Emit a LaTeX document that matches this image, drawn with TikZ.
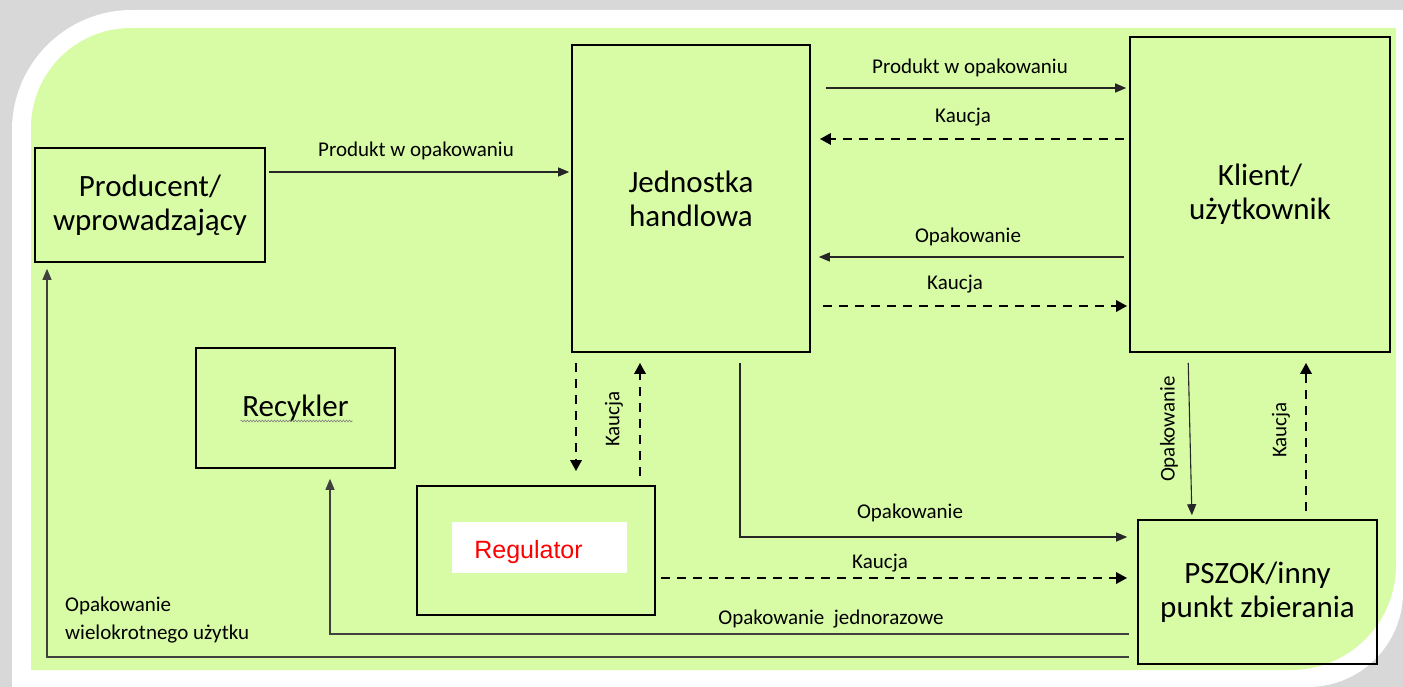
\documentclass[tikz,border=0pt]{standalone}
\usepackage{fontspec}
\setmainfont{Carlito}
\newfontfamily\arialfont{Liberation Sans}
\usetikzlibrary{arrows.meta,decorations.pathmorphing}
\definecolor{panelgreen}{RGB}{216,252,166}
\definecolor{shadowgray}{RGB}{216,216,216}
\begin{document}
\begin{tikzpicture}[x=1pt,y=-1pt,
  box/.style={draw=black,line width=1.6pt,inner sep=0pt,align=center,font=\fontsize{31}{34}\selectfont},
  lbl/.style={font=\fontsize{21}{28}\selectfont,inner sep=0pt,anchor=base},
  rlbl/.style={font=\fontsize{21}{28}\selectfont,inner sep=0pt,rotate=90},
  sarr/.style={draw=black!85,line width=1.1pt,-{Triangle[length=11pt,width=9pt]}},
  darr/.style={draw=black,line width=2.9pt,dash pattern=on 9pt off 7pt,-{Triangle[length=11pt,width=11pt]}}
]
\useasboundingbox (0,0) rectangle (1403,687);
% background panel
\fill[shadowgray] (0,0) rectangle (1403,687);
\fill[white] (12,687) -- (12,130) arc[start angle=180,end angle=270,radius=120] -- (1403,10) -- (1403,592) arc[start angle=0,end angle=90,radius=95] -- cycle;
\fill[panelgreen] (31,670) -- (31,128) arc[start angle=180,end angle=270,radius=100] -- (1396,28) -- (1396,565) arc[start angle=0,end angle=90,radius=105] -- cycle;

% boxes
\node[box,minimum width=230pt,minimum height=114pt] (prod) at (150,205) {Producent/\\wprowadzający};
\node[box,minimum width=238pt,minimum height=307pt] (jh) at (691,198.5) {Jednostka\\handlowa};
\node[box,minimum width=260pt,minimum height=315pt] (kl) at (1260,194.5) {Klient/\\użytkownik};
\node[box,minimum width=199pt,minimum height=120pt] (rec) at (295.5,408) {Recykler};
\node[box,minimum width=238pt,minimum height=129pt] (reg) at (536,550.5) {};
\node[fill=white,inner sep=0pt,minimum width=175pt,minimum height=51pt] (regbg) at (539.5,547.5) {};
\node[anchor=base,inner sep=0pt,text=red,font=\arialfont\fontsize{25}{28}\selectfont] (regtxt) at (528.5,558) {Regulator};
\node[box,minimum width=239pt,minimum height=144pt] (psz) at (1257.5,592) {PSZOK/inny\\punkt zbierania};

% spell-check squiggle under Recykler
\draw[gray,line width=0.6pt,decorate,decoration={snake,amplitude=0.9pt,segment length=3pt}]
  ([xshift=-55pt,yshift=-13pt]rec.center) -- ([xshift=57pt,yshift=-13pt]rec.center);

% connectors
\draw[sarr,shorten <=3pt,shorten >=2pt] (prod.east |- 0,172) -- (jh.west |- 0,172);
\node[lbl] (l1) at (416,157) {Produkt w opakowaniu};

\draw[sarr,shorten <=15pt,shorten >=3pt] (jh.east |- 0,88) -- (kl.west |- 0,88);
\node[lbl] (l2) at (970,74) {Produkt w opakowaniu};

\draw[darr,shorten <=5pt,shorten >=9pt] (kl.west |- 0,139) -- (jh.east |- 0,139);
\node[lbl] (l3) at (963,123) {Kaucja};

\draw[sarr,shorten <=5pt,shorten >=8pt] (kl.west |- 0,257) -- (jh.east |- 0,257);
\node[lbl] (l4) at (968,243) {Opakowanie};

\draw[darr,shorten <=12pt,shorten >=2pt] (jh.east |- 0,306) -- (kl.west |- 0,306);
\node[lbl] (l5) at (955,289) {Kaucja};

\draw[darr,shorten <=10pt,shorten >=14pt] (576,0 |- jh.south) -- (576,0 |- reg.north);
\draw[darr,shorten <=9pt,shorten >=10pt] (640,0 |- reg.north) -- (640,0 |- jh.south);
\node[rlbl] (l7) at (614,419) {Kaucja};

\draw[sarr,shorten <=10pt,shorten >=10pt] (740,0 |- jh.south) -- (740,537) -- (psz.west |- 0,537);
\node[lbl] (l8) at (910,518) {Opakowanie};

\draw[darr,shorten <=5pt,shorten >=10pt] (reg.east |- 0,578) -- (psz.west |- 0,578);
\node[lbl] (l9) at (880,568) {Kaucja};

\draw[sarr,draw=black!75,shorten <=8pt,shorten >=10pt] (psz.west |- 0,634) -| (330,0 |- rec.south);
\node[lbl] (l10) at (831,624) {Opakowanie\ \ jednorazowe};

\draw[sarr,draw=black!75,shorten <=8pt,shorten >=6pt] (psz.west |- 0,657) -| (47,0 |- prod.south);
\node[font=\fontsize{21}{28}\selectfont,inner sep=0pt,anchor=base west,align=left] (l11) at (65,639) {Opakowanie\\wielokrotnego użytku};

\draw[sarr,shorten <=10pt,shorten >=4pt] (1188,0 |- kl.south) -- (1192,0 |- psz.north);
\node[rlbl] (l12) at (1169,429) {Opakowanie};

\draw[darr,shorten <=8pt,shorten >=10pt] (1306,0 |- psz.north) -- (1306,0 |- kl.south);
\node[rlbl] (l13) at (1281,430) {Kaucja};
\end{tikzpicture}
\end{document}
